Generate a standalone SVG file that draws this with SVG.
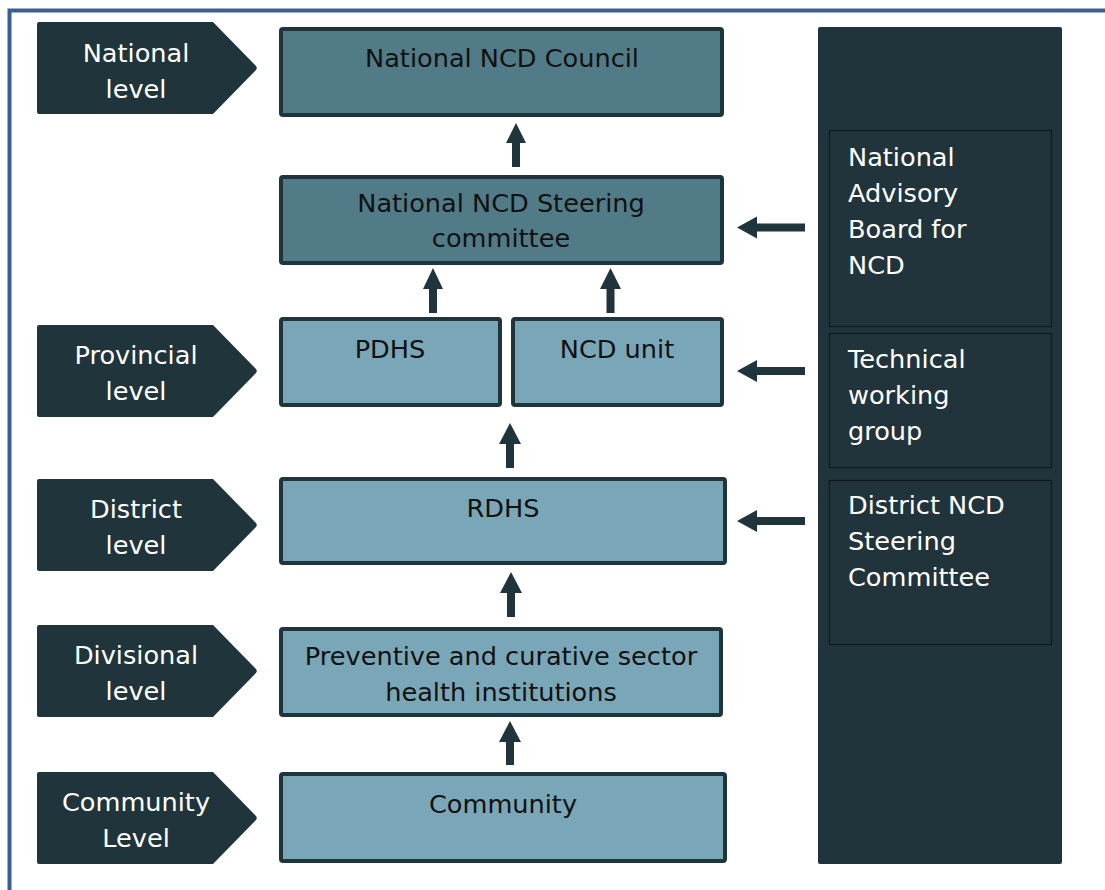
<svg xmlns="http://www.w3.org/2000/svg" width="1105" height="890" viewBox="0 0 1105 890">
<defs>
<style>
.t{font-family:"DejaVu Sans",Verdana,sans-serif;font-size:25.6px}
.w{fill:#ffffff}
.k{fill:#111111}
.tag{fill:#20343b}
.dk{fill:#527b88;stroke:#20343b;stroke-width:4}
.lt{fill:#7aa7b7;stroke:#20343b;stroke-width:4}
.inner{fill:#22343b;stroke:#0e1a1e;stroke-width:1.2}
.arr{fill:#20343b}
</style>
</defs>
<rect width="1105" height="890" fill="#ffffff"/>
<g id="frame" fill="none" stroke="#3a6093" stroke-width="4">
<path d="M9.5,890 L9.5,10.5 L1105,10.5"/>
</g>

<g id="tag-national"><path class="tag" d="M39,22 L213,22 L256,66 Q257.5,68 256,70 L213,114 L39,114 Q37,114 37,112 L37,24 Q37,22 39,22 Z"/>
<text class="t w" x="136" y="62" text-anchor="middle">National</text><text class="t w" x="136" y="98" text-anchor="middle">level</text></g>
<g id="tag-provincial"><path class="tag" d="M39,325 L213,325 L256,369 Q257.5,371 256,373 L213,417 L39,417 Q37,417 37,415 L37,327 Q37,325 39,325 Z"/>
<text class="t w" x="136" y="364" text-anchor="middle">Provincial</text><text class="t w" x="136" y="400" text-anchor="middle">level</text></g>
<g id="tag-district"><path class="tag" d="M39,479 L213,479 L256,523 Q257.5,525 256,527 L213,571 L39,571 Q37,571 37,569 L37,481 Q37,479 39,479 Z"/>
<text class="t w" x="136" y="518" text-anchor="middle">District</text><text class="t w" x="136" y="554" text-anchor="middle">level</text></g>
<g id="tag-divisional"><path class="tag" d="M39,625 L213,625 L256,669 Q257.5,671 256,673 L213,717 L39,717 Q37,717 37,715 L37,627 Q37,625 39,625 Z"/>
<text class="t w" x="136" y="664" text-anchor="middle">Divisional</text><text class="t w" x="136" y="700" text-anchor="middle">level</text></g>
<g id="tag-community"><path class="tag" d="M39,772 L213,772 L256,816 Q257.5,818 256,820 L213,864 L39,864 Q37,864 37,862 L37,774 Q37,772 39,772 Z"/>
<text class="t w" x="136" y="811" text-anchor="middle">Community</text><text class="t w" x="136" y="847" text-anchor="middle">Level</text></g>

<g id="council"><rect class="dk" x="281" y="29" width="441" height="86" rx="2"/>
<text class="t k" x="502" y="67" text-anchor="middle">National NCD Council</text></g>
<g id="steering"><rect class="dk" x="281" y="177" width="441" height="86" rx="2"/>
<text class="t k" x="501" y="212" text-anchor="middle">National NCD Steering</text><text class="t k" x="501" y="247" text-anchor="middle">committee</text></g>
<g id="pdhs"><rect class="lt" x="281" y="319" width="219" height="86" rx="2"/>
<text class="t k" x="390" y="358" text-anchor="middle">PDHS</text></g>
<g id="ncdunit"><rect class="lt" x="513" y="319" width="209" height="86" rx="2"/>
<text class="t k" x="617" y="358" text-anchor="middle">NCD unit</text></g>
<g id="rdhs"><rect class="lt" x="281" y="479" width="444" height="84" rx="2"/>
<text class="t k" x="503" y="517" text-anchor="middle">RDHS</text></g>
<g id="preventive"><rect class="lt" x="281" y="629" width="440" height="86" rx="2"/>
<text class="t k" x="501" y="665" text-anchor="middle">Preventive and curative sector</text><text class="t k" x="501" y="701" text-anchor="middle">health institutions</text></g>
<g id="community"><rect class="lt" x="281" y="774" width="444" height="87" rx="2"/>
<text class="t k" x="503" y="813" text-anchor="middle">Community</text></g>

<g id="panel"><rect x="818" y="27" width="244" height="837" rx="2" fill="#20343b"/></g>
<g id="advisory"><rect class="inner" x="829.5" y="130.5" width="222" height="196"/>
<text class="t w" x="848" y="166">National</text><text class="t w" x="848" y="202">Advisory</text><text class="t w" x="848" y="238">Board for</text><text class="t w" x="848" y="274">NCD</text></g>
<g id="technical"><rect class="inner" x="829.5" y="333.5" width="222" height="134"/>
<text class="t w" x="848" y="368">Technical</text><text class="t w" x="848" y="404">working</text><text class="t w" x="848" y="440">group</text></g>
<g id="districtncd"><rect class="inner" x="829.5" y="480.5" width="222" height="164"/>
<text class="t w" x="848" y="514">District NCD</text><text class="t w" x="848" y="550">Steering</text><text class="t w" x="848" y="586">Committee</text></g>

<g id="connectors" class="arr">
<path d="M512,167 L512,143 L506,143 L516,123 L526,143 L520,143 L520,167 Z"/>
<path d="M429,313 L429,289 L423,289 L433,268 L443,289 L437,289 L437,313 Z"/>
<path d="M606.5,313 L606.5,289 L600,289 L610.5,268 L621,289 L614.5,289 L614.5,313 Z"/>
<path d="M506,468 L506,444 L499,444 L510,423 L521,444 L514,444 L514,468 Z"/>
<path d="M507,617 L507,593 L500,593 L511,572 L522,593 L515,593 L515,617 Z"/>
<path d="M506,765 L506,742 L499,742 L510,721 L521,742 L514,742 L514,765 Z"/>
<path d="M805,223.5 L757,223.5 L757,216.5 L737,227.5 L757,238.5 L757,231.5 L805,231.5 Z"/>
<path d="M805,367 L757,367 L757,360 L737,371 L757,382 L757,375 L805,375 Z"/>
<path d="M805,517 L757,517 L757,510 L737,521 L757,532 L757,525 L805,525 Z"/>
</g>
</svg>
